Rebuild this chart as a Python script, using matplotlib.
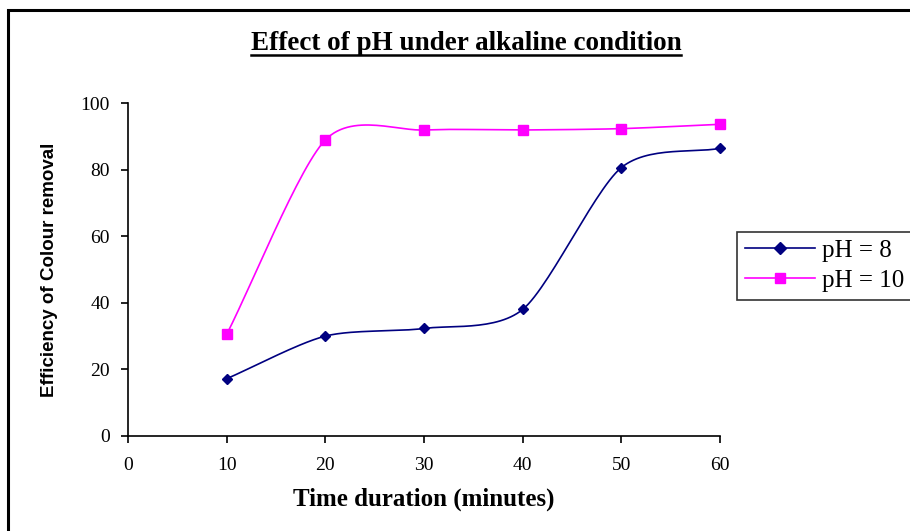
import numpy as np
import matplotlib
matplotlib.use("Agg")
import matplotlib.pyplot as plt
from matplotlib.lines import Line2D
from matplotlib.patches import Rectangle

# data
time_min = [10, 20, 30, 40, 50, 60]
ph8 = [17.2, 30.0, 32.3, 38.0, 80.6, 86.4]
ph10 = [30.5, 88.9, 91.9, 91.9, 92.3, 93.6]
labels = ["pH = 8", "pH = 10"]


def smooth(x, y, n=30, k=0.8):
    # Catmull-Rom style curve through the points, like Excel's smoothed line
    x = np.asarray(x, float)
    y = np.asarray(y, float)
    px = np.concatenate([[2 * x[0] - x[1]], x, [2 * x[-1] - x[-2]]])
    py = np.concatenate([[2 * y[0] - y[1]], y, [2 * y[-1] - y[-2]]])
    xs, ys = [], []
    t = np.linspace(0, 1, n)
    for i in range(1, len(px) - 2):
        for p, out in ((px, xs), (py, ys)):
            p0, p1, p2, p3 = p[i - 1], p[i], p[i + 1], p[i + 2]
            m1 = k * 0.5 * (p2 - p0)
            m2 = k * 0.5 * (p3 - p1)
            h00 = 2 * t**3 - 3 * t**2 + 1
            h10 = t**3 - 2 * t**2 + t
            h01 = -2 * t**3 + 3 * t**2
            h11 = t**3 - t**2
            out.extend(h00 * p1 + h10 * m1 + h01 * p2 + h11 * m2)
    return xs, ys


serif = "Liberation Serif"
W, H = 910, 531
fig = plt.figure(figsize=(W / 100, H / 100), dpi=100)
fig.patch.set_facecolor("white")

# chart frame (right and bottom edges are cut off in the original)
fig.patches.append(Rectangle((8 / W, -0.05), 1.2, 1 - 10 / H + 0.05,
                             transform=fig.transFigure, fill=False,
                             edgecolor="black", linewidth=2.2))

ax = fig.add_axes([128 / W, 1 - 436 / H, (720 - 128) / W, (436 - 103) / H])

sx, sy = smooth(time_min, ph8)
ax.plot(sx, sy, color="#000080", linewidth=1.2, clip_on=False)
ax.plot(time_min, ph8, linestyle="none", marker="D", markersize=5.5,
        color="#000080", clip_on=False)
sx, sy = smooth(time_min, ph10)
ax.plot(sx, sy, color="#FF00FF", linewidth=1.2, clip_on=False)
ax.plot(time_min, ph10, linestyle="none", marker="s", markersize=7,
        color="#FF00FF", clip_on=False)

ax.set_xlim(0, 60)
ax.set_ylim(0, 100)
ax.set_xticks(range(0, 61, 10))
ax.set_yticks(range(0, 101, 20))
for s in ["top", "right"]:
    ax.spines[s].set_visible(False)
for s in ["left", "bottom"]:
    ax.spines[s].set_linewidth(1.2)
ax.tick_params(direction="out", length=5, width=1.2, labelsize=14)
ax.tick_params(axis="x", pad=10)
ax.tick_params(axis="y", pad=8)
for lab in ax.get_xticklabels() + ax.get_yticklabels():
    lab.set_fontfamily(serif)

ax.set_xlabel("Time duration (minutes)", fontfamily=serif, fontweight="bold",
              fontsize=18, labelpad=10)
ax.set_ylabel("Efficiency of Colour removal", fontfamily="Liberation Sans",
              fontweight="bold", fontsize=13.5, labelpad=16)

handles = [Line2D([], [], color="#000080", marker="D", markersize=6, linewidth=1.2),
           Line2D([], [], color="#FF00FF", marker="s", markersize=7.5, linewidth=1.2)]
leg = fig.legend(handles, labels, loc="upper left",
                 bbox_to_anchor=(737 / W, 1 - 232 / H),
                 prop={"family": serif, "size": 18}, frameon=True,
                 fancybox=False, edgecolor="black", handlelength=2.8,
                 borderpad=0.3, labelspacing=0.3, handletextpad=0.3,
                 borderaxespad=0)
leg.get_frame().set_linewidth(1.2)

title = fig.text(466 / W, 1 - 44 / H, "Effect of pH under alkaline condition",
                 ha="center", va="center", fontfamily=serif,
                 fontweight="bold", fontsize=19.5)
fig.canvas.draw()
bb = title.get_window_extent().transformed(fig.transFigure.inverted())
fig.add_artist(Line2D([bb.x0, bb.x1], [bb.y0 + 0.002, bb.y0 + 0.002],
                      transform=fig.transFigure, color="black", linewidth=1.8))

fig.savefig("out.png", dpi=100)
